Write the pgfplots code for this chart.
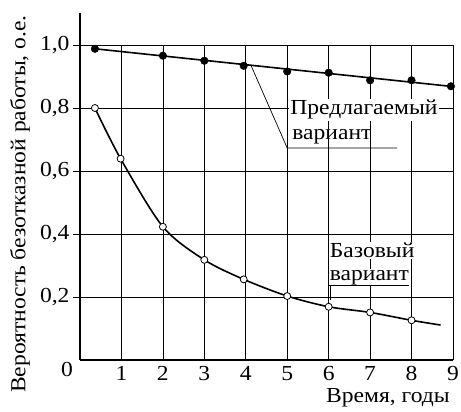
\documentclass[border=0pt]{standalone}
\usepackage{fontspec}
\setmainfont[FakeStretch=1.1]{Liberation Serif}
\usepackage{pgfplots}
\pgfplotsset{compat=1.18}
\newcommand{\fs}{\fontsize{21.5}{25}\selectfont}
\begin{document}
\begin{tikzpicture}
\begin{axis}[
    at={(0,0)}, anchor=origin,
    scale only axis, width=373bp, height=346.5bp,
    xmin=0, xmax=9, ymin=0, ymax=1.1,
    axis lines=left,
    axis line style={-, line width=1.6bp},
    xtick={1,...,9},
    ytick={0.2,0.4,0.6,0.8,1.0},
    ymajorgrids,
    grid style={black, line width=0.7bp},
    tick align=outside,
    major tick length=7bp,
    tick style={black, line width=0.7bp},
    xtick style={draw=none},
    /pgf/number format/assume math mode=true,
    yticklabel={\pgfmathprintnumber[use comma,fixed,fixed zerofill,precision=1,assume math mode=true]{\tick}},
    tick label style={font=\fs},
    xticklabel style={yshift=4bp},
    ylabel={Вероятность безотказной работы, о.е.},
    xlabel={Время, годы},
    every axis y label/.style={at={([xshift=-60bp]axis description cs:0,0.45)}, rotate=90, anchor=center, font=\fs},
    every axis x label/.style={at={([xshift=4bp, yshift=-38bp]axis description cs:0.815,0)}, anchor=center, font=\fs},
    clip=false,
  ]
  % vertical grid lines stop at 1.0
  \addplot[ycomb, black, line width=0.7bp, no markers]
    coordinates {(1,1)(2,1)(3,1)(4,1)(5,1)(6,1)(7,1)(8,1)(9,1)};

  \node[font=\fs, fill=white, inner sep=1.5bp] at (axis cs:6.85,0.794) {Предлагаемый};
  \node[font=\fs, anchor=west, inner sep=0pt] at (axis cs:5.12,0.708) {вариант};
  \draw[black, line width=0.7bp] (axis cs:4.12,0.937) -- (axis cs:5.0,0.673) -- (axis cs:7.65,0.673);

  \node[font=\fs, anchor=west, fill=white, inner sep=1bp] at (axis cs:6.0,0.349) {Базовый};
  \node[font=\fs, anchor=west, fill=white, inner sep=1bp] at (axis cs:6.0,0.262) {вариант};
  \draw[black, line width=0.7bp] (axis cs:6.0,0.238) -- (axis cs:7.95,0.238);
  \draw[black, line width=0.7bp] (axis cs:6.05,0.238) -- (axis cs:6.05,0.190);

  \node[font=\fs, anchor=north east, inner sep=0pt] at (axis cs:0,0) [xshift=-7bp, yshift=-2bp] {0};

  % proposed variant
  \addplot[black, line width=1.6bp] coordinates {(0.36,0.988)(9,0.868)};
  \addplot[only marks, mark=*, mark size=3.8bp, black]
    coordinates {(0.36,0.988)(2,0.966)(3,0.95)(3.95,0.934)(5,0.916)(6,0.912)(7,0.888)(8,0.888)(8.95,0.869)};

  % base variant
  \addplot[black, line width=1.6bp, smooth]
    coordinates {(0.36,0.80)(0.98,0.639)(2,0.423)(3,0.318)(3.95,0.256)(5,0.203)(6,0.169)(7,0.151)(8,0.126)(8.7,0.111)};
  \addplot[only marks, mark=*, mark size=3.5bp, mark options={fill=white, draw=black, line width=0.8bp}]
    coordinates {(0.36,0.80)(0.98,0.639)(2,0.423)(3,0.318)(3.95,0.256)(5,0.203)(6,0.169)(7,0.151)(8,0.126)};
\end{axis}
\pgfresetboundingbox
\path (-80bp,-52bp) rectangle (381bp,360bp);
\end{tikzpicture}
\end{document}
